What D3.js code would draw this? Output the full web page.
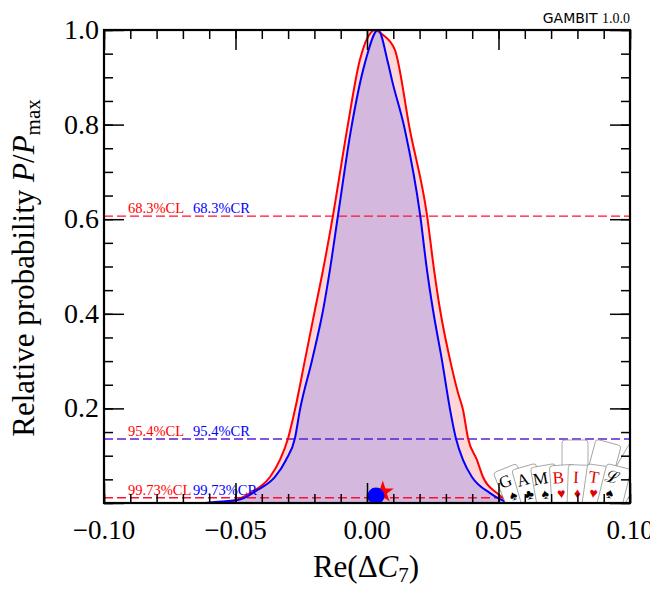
<!DOCTYPE html>
<html lang="en">
<head>
<meta charset="utf-8">
<title>GAMBIT 1D likelihood / posterior</title>
<script src="https://d3js.org/d3.v7.min.js"></script>
<style>
  body { margin: 0; background: #fff; }
  .axis path { display: none; }
  .axis line { stroke: #000; stroke-width: 1.5; }
  text { font-family: "Liberation Serif", serif; }
</style>
</head>
<body>
<div id="chart"></div>
<script>
// profile likelihood (red)
var redX = [-0.060, -0.055, -0.051, -0.0445, -0.0369, -0.0331, -0.0300, -0.0274, -0.0236, -0.0198, -0.0167, -0.0129,
            -0.0076, -0.0027, 0.0015, 0.0030, 0.0060, 0.0106, 0.0163, 0.0228, 0.0255, 0.0278, 0.0316, 0.0346,
            0.0365, 0.0384, 0.0418, 0.0441, 0.0494, 0.0544, 0.0580]
var redY = [0.000, 0.001, 0.004, 0.021, 0.055, 0.091, 0.137, 0.197, 0.302, 0.408, 0.493, 0.609,
            0.789, 0.937, 0.995, 1.000, 0.990, 0.958, 0.789, 0.609, 0.493, 0.408, 0.302, 0.233,
            0.197, 0.137, 0.091, 0.055, 0.021, 0.003, 0.000]
// marginal posterior (blue)
var blueX = [-0.0616, -0.0578, -0.048, -0.0418, -0.035, -0.0308, -0.0274, -0.0255, -0.0209, -0.0167, -0.0141, -0.0110,
             -0.0061, -0.0008, 0.0042, 0.0080, 0.0095, 0.0144, 0.0202, 0.0228, 0.0251, 0.0285, 0.0316, 0.0338,
             0.0365, 0.0399, 0.0468, 0.0506, 0.0544]
var blueY = [0.000, 0.002, 0.008, 0.027, 0.055, 0.091, 0.137, 0.197, 0.302, 0.408, 0.493, 0.609,
             0.789, 0.930, 1.000, 0.930, 0.894, 0.789, 0.609, 0.493, 0.408, 0.302, 0.197, 0.137,
             0.091, 0.055, 0.021, 0.008, 0.000]

var levels = [0.6065, 0.1353, 0.0111]
var clLabels = ["68.3%CL", "95.4%CL", "99.73%CL"]
var crLabels = ["68.3%CR", "95.4%CR", "99.73%CR"]
var levelColors = ["#ff1030", "#5a1fd6", "#ff1030"]

var xTicks = [-0.10, -0.05, 0.00, 0.05, 0.10]
var yTicks = [0.2, 0.4, 0.6, 0.8, 1.0]

var bestFit = [0.0060, 0.023]   // red star
var postMean = [0.0034, 0.015]  // blue dot

var cardLetters = ["G", "A", "M", "B", "I", "T", "\u2112"]
var cardSuits = ["\u2660", "\u2663", "\u2660", "\u2665", "\u2666", "\u2665", "\u2660"]
var cardRed = [false, false, false, true, true, true, false]

var W = 650, H = 600
var pL = 104, pR = 630, pT = 30, pB = 503

var svg = d3.select("#chart").append("svg")
    .attr("width", W)
    .attr("height", H)

var x = d3.scaleLinear().domain([-0.1, 0.1]).range([pL, pR])
var y = d3.scaleLinear().domain([0, 1]).range([pB, pT])

svg.append("defs").append("clipPath").attr("id", "plotclip")
    .append("rect")
    .attr("x", pL).attr("y", pT)
    .attr("width", pR - pL).attr("height", pB - pT)

var plot = svg.append("g").attr("clip-path", "url(#plotclip)")

var area = d3.area()
    .x(function(d) { return x(d[0]) })
    .y0(y(0))
    .y1(function(d) { return y(d[1]) })
    .curve(d3.curveMonotoneX)
var line = d3.line()
    .x(function(d) { return x(d[0]) })
    .y(function(d) { return y(d[1]) })
    .curve(d3.curveMonotoneX)

var redData = d3.zip(redX, redY)
var blueData = d3.zip(blueX, blueY)

plot.append("path").datum(redData).attr("d", area).attr("fill", "#ffd6d6")
plot.append("path").datum(blueData).attr("d", area).attr("fill", "#d5b8de")

// confidence levels
levels.forEach(function(lv, i) {
    plot.append("line")
        .attr("x1", pL).attr("x2", pR)
        .attr("y1", y(lv)).attr("y2", y(lv))
        .attr("stroke", levelColors[i]).attr("stroke-width", 1.4)
        .attr("stroke-dasharray", "9,4")
    svg.append("text")
        .attr("x", pL + 24).attr("y", y(lv) - 3)
        .attr("fill", "#ff0000").attr("font-size", 14.5)
        .text(clLabels[i])
    svg.append("text")
        .attr("x", pL + 89).attr("y", y(lv) - 3)
        .attr("fill", "#0000ff").attr("font-size", 14.5)
        .text(crLabels[i])
})

plot.append("path").datum(redData).attr("d", line)
    .attr("fill", "none").attr("stroke", "#ff0000").attr("stroke-width", 2)
plot.append("path").datum(blueData).attr("d", line)
    .attr("fill", "none").attr("stroke", "#0000ff").attr("stroke-width", 2)

// best fit star and posterior mean
plot.append("path")
    .attr("d", d3.symbol().type(d3.symbolStar).size(150)())
    .attr("transform", "translate(" + x(bestFit[0]) + "," + y(bestFit[1]) + ")")
    .attr("fill", "#ff0000")
plot.append("circle")
    .attr("cx", x(postMean[0])).attr("cy", y(postMean[1]))
    .attr("r", 8.5).attr("fill", "#0000ff")

// card logo
var logo = plot.append("g")
var backs = [[575, 0], [590, 15], [605, 30]]
backs.forEach(function(b) {
    logo.append("rect")
        .attr("x", -13).attr("y", -72).attr("width", 26).attr("height", 80).attr("rx", 3)
        .attr("fill", "#fff").attr("stroke", "#888").attr("stroke-width", 0.7)
        .attr("transform", "translate(" + b[0] + ",512) rotate(" + b[1] + ")")
})
cardLetters.forEach(function(l, i) {
    var cx = 522 + i * 14.2
    var rot = -22 + i * 6
    var g = logo.append("g")
        .attr("transform", "translate(" + cx + ",512) rotate(" + rot + ")")
    g.append("rect")
        .attr("x", -12).attr("y", -47).attr("width", 25).attr("height", 55).attr("rx", 3)
        .attr("fill", "#fff").attr("stroke", "#888").attr("stroke-width", 0.7)
    g.append("text")
        .attr("x", -4).attr("y", -29)
        .attr("text-anchor", "middle")
        .attr("font-size", 17)
        .attr("fill", cardRed[i] ? "#e00000" : "#000")
        .text(l)
    g.append("text")
        .attr("x", -2).attr("y", -14)
        .attr("text-anchor", "middle")
        .attr("font-size", 14)
        .attr("font-family", "DejaVu Sans")
        .attr("fill", cardRed[i] ? "#e00000" : "#000")
        .text(cardSuits[i])
})

// ticks on all sides, pointing inwards
var xMinor = d3.range(-10, 11).map(function(d) { return d / 100 })
var yMinor = d3.range(0, 21).map(function(d) { return d / 20 })

function addAxis(axisFn, scale, vals, size, tx, ty) {
    svg.append("g")
        .attr("class", "axis")
        .attr("transform", "translate(" + tx + "," + ty + ")")
        .call(axisFn(scale).tickValues(vals).tickSize(-size).tickFormat(""))
}
addAxis(d3.axisBottom, x, xMinor, 9, 0, pB)
addAxis(d3.axisBottom, x, xTicks, 20, 0, pB)
addAxis(d3.axisTop, x, xMinor, 9, 0, pT)
addAxis(d3.axisTop, x, xTicks, 20, 0, pT)
addAxis(d3.axisLeft, y, yMinor, 9, pL, 0)
addAxis(d3.axisLeft, y, [0].concat(yTicks), 20, pL, 0)
addAxis(d3.axisRight, y, yMinor, 9, pR, 0)
addAxis(d3.axisRight, y, [0].concat(yTicks), 20, pR, 0)

svg.append("rect")
    .attr("x", pL).attr("y", pT)
    .attr("width", pR - pL).attr("height", pB - pT)
    .attr("fill", "none").attr("stroke", "#000").attr("stroke-width", 2.2)

// tick labels
var fmtX = d3.format(".2f")
svg.selectAll(".xlab").data(xTicks).enter().append("text")
    .attr("class", "xlab")
    .attr("x", function(d) { return x(d) })
    .attr("y", pB + 36)
    .attr("text-anchor", "middle")
    .attr("font-size", 27)
    .text(function(d) { return fmtX(d) })
svg.selectAll(".ylab").data(yTicks).enter().append("text")
    .attr("class", "ylab")
    .attr("x", pL - 5)
    .attr("y", function(d) { return y(d) + 9 })
    .attr("text-anchor", "end")
    .attr("font-size", 28)
    .text(function(d) { return d.toFixed(1) })

// axis titles
var xt = svg.append("text")
    .attr("x", 366)
    .attr("y", 577)
    .attr("text-anchor", "middle")
    .attr("font-size", 31)
xt.append("tspan").text("Re(\u0394")
xt.append("tspan").attr("font-style", "italic").text("C")
xt.append("tspan").attr("font-size", 21).attr("dy", 5).text("7")
xt.append("tspan").attr("dy", -5).text(")")

var yt = svg.append("text")
    .attr("transform", "translate(34," + 268 + ") rotate(-90)")
    .attr("text-anchor", "middle")
    .attr("font-size", 31)
yt.append("tspan").text("Relative probability ")
yt.append("tspan").attr("font-style", "italic").text("P")
yt.append("tspan").text("/")
yt.append("tspan").attr("font-style", "italic").text("P")
yt.append("tspan").attr("font-size", 21).attr("dy", 6).text("max")

// GAMBIT tag
var tag = svg.append("text")
    .attr("x", pR).attr("y", 23)
    .attr("text-anchor", "end")
    .attr("font-size", 14)
tag.append("tspan").attr("font-family", "DejaVu Sans").text("GAMBIT ")
tag.append("tspan").text("1.0.0")
</script>
</body>
</html>
